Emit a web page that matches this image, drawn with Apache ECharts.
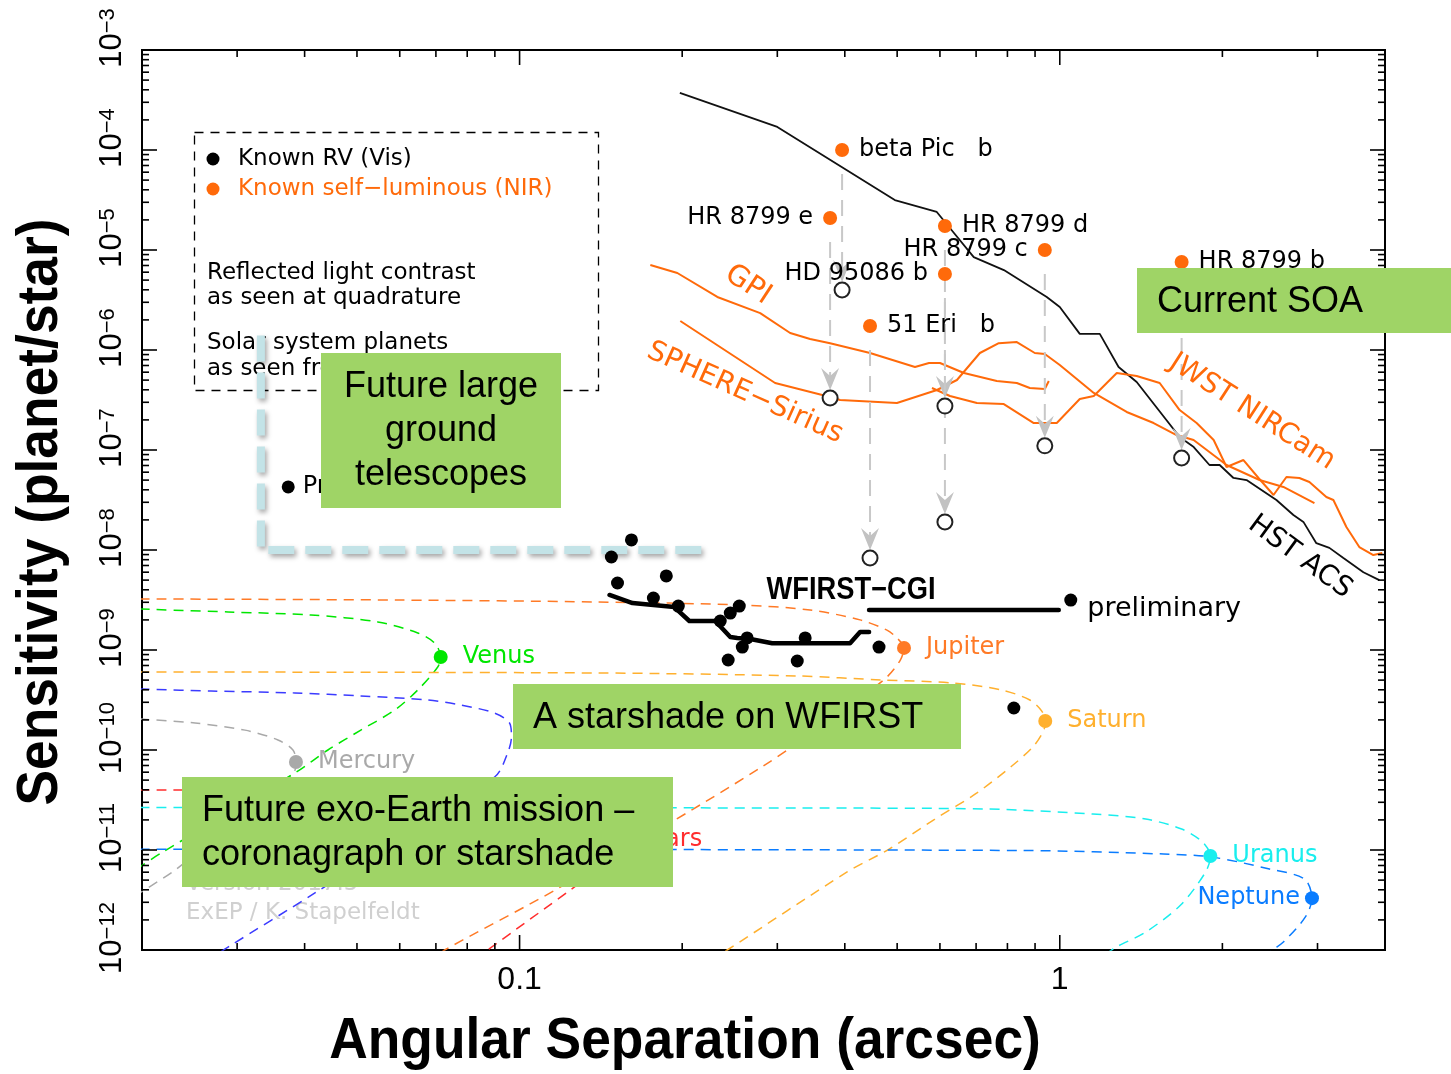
<!DOCTYPE html>
<html>
<head>
<meta charset="utf-8">
<script src="https://cdn.jsdelivr.net/npm/echarts@6/dist/echarts.min.js"></script>
<style>
  html, body { margin: 0; padding: 0; background: #fff; }
  #chart { width: 1451px; height: 1074px; }
</style>
</head>
<body>
<div id="chart"></div>
<script>
// ---------- data (angular separation in arcsec, contrast planet/star) ----------
const hstAcs = [[0.198,3.72e-4],[0.300,1.70e-4],[0.495,3.16e-5],[0.592,2.40e-5],[0.637,1.48e-5],[0.693,8.5e-6],[0.788,6.3e-6],[0.946,3.39e-6],[1.0,2.69e-6],[1.089,1.45e-6],[1.186,1.45e-6],[1.285,6.76e-7],[1.388,4.79e-7],[1.667,1.35e-7],[1.770,1.07e-7],[1.893,7.08e-8],[1.977,7.08e-8],[2.097,5.25e-8],[2.217,5.01e-8],[2.518,3.16e-8],[2.707,2.24e-8],[2.825,1.91e-8],[2.985,1.17e-8],[3.156,1.05e-8],[3.350,8.3e-9],[3.648,6.0e-9],[3.904,5.0e-9]];
const gpi = [[0.1746,7.08e-6],[0.1959,5.89e-6],[0.2323,3.39e-6],[0.2789,2.34e-6],[0.3169,1.48e-6],[0.345,1.29e-6],[0.3757,1.17e-6],[0.4454,9.33e-7],[0.5395,6.76e-7],[0.5727,7.41e-7],[0.6002,7.41e-7],[0.6647,5.89e-7],[0.7646,4.90e-7],[0.8327,4.68e-7],[0.8801,4.17e-7],[0.9382,4.07e-7],[0.9543,4.90e-7]];
const sphereSirius = [[0.1984,1.95e-6],[0.2972,4.68e-7],[0.3757,3.39e-7],[0.392,3.16e-7],[0.4995,2.95e-7],[0.5925,3.98e-7],[0.6451,5.01e-7],[0.7114,9.33e-7],[0.7711,1.17e-6],[0.8327,1.20e-6],[0.899,9.33e-7],[0.9382,9.12e-7],[1.0,7.08e-7],[1.156,3.72e-7],[1.33,2.40e-7],[1.492,1.86e-7],[1.645,1.41e-7],[1.769,1.26e-7],[2.036,7.08e-8],[2.343,5.01e-8],[2.594,4.27e-8],[2.961,2.95e-8]];
const jwstNircam = [[0.58,4.17e-7],[0.6262,3.47e-7],[0.7025,2.95e-7],[0.7878,2.88e-7],[0.8951,1.86e-7],[0.9873,1.86e-7],[1.089,3.24e-7],[1.156,3.47e-7],[1.275,5.89e-7],[1.388,5.50e-7],[1.531,4.68e-7],[1.667,2.51e-7],[1.792,1.86e-7],[1.927,1.26e-7],[2.036,6.76e-8],[2.188,7.94e-8],[2.333,5.25e-8],[2.487,3.55e-8],[2.628,5.37e-8],[2.777,5.25e-8],[2.898,4.79e-8],[3.115,3.39e-8],[3.21,3.16e-8],[3.393,1.70e-8],[3.585,1.07e-8],[3.806,8.91e-9],[3.954,9.33e-9]];
const wfirstCgi = [[0.1467,3.55e-9],[0.1618,2.95e-9],[0.1934,2.69e-9],[0.2062,1.95e-9],[0.2303,1.95e-9],[0.2455,1.35e-9],[0.2529,1.32e-9],[0.2673,1.29e-9],[0.2935,1.17e-9],[0.4091,1.17e-9],[0.4269,1.51e-9],[0.4436,1.51e-9]];
const wfirstPrelim = [[0.4436,2.51e-9],[0.9958,2.51e-9]];
const futureGround = [[0.0332,1.4e-6],[0.0332,1e-8],[0.218,1e-8]];

// known RV planets: [separation, contrast, label]
const knownRV = [[0.0373,4.27e-8,'Proxima Cen b'],[0.1611,1.26e-8,''],[0.1479,8.51e-9,''],[0.1518,4.68e-9,''],[0.1869,5.50e-9,''],[0.1769,3.31e-9,''],[0.1967,2.75e-9,''],[0.2551,2.75e-9,''],[0.2455,2.34e-9,''],[0.2352,1.95e-9,''],[0.2638,1.32e-9,''],[0.2584,1.07e-9,''],[0.2433,7.94e-10,''],[0.3378,1.32e-9,''],[0.3266,7.76e-10,''],[0.4628,1.07e-9,''],[0.8222,2.63e-10,''],[1.048,3.16e-9,'preliminary']];

// self-luminous planets: [name, separation, NIR contrast, reflected-light contrast]
const selfLuminous = [
  ['beta Pic   b', 0.3954, 1e-4, 3.98e-6],
  ['HR 8799 e', 0.3757, 2.09e-5, 3.31e-7],
  ['HR 8799 d', 0.6129, 1.74e-5, 2.75e-7],
  ['HR 8799 c', 0.9382, 1e-5, 1.10e-7],
  ['HD 95086 b', 0.6129, 5.75e-6, 1.91e-8],
  ['51 Eri   b', 0.4454, 1.74e-6, 8.32e-9],
  ['HR 8799 b', 1.681, 7.59e-6, 8.32e-8]
];
const labelsOnLeft = ['HR 8799 e', 'HR 8799 c', 'HD 95086 b'];

// solar system planets seen from 10 pc, along the orbit
const mercuryPath = [[0.0198,2.04e-10],[0.02508,1.86e-10],[0.03102,1.58e-10],[0.0357,1.26e-10],[0.03806,1e-10],[0.03855,7.59e-11],[0.03822,6.03e-11],[0.03421,3.72e-11],[0.02765,1.41e-11],[0.02304,6.31e-12],[0.0198,3.72e-12]];
const venusPath = [[0.0198,2.57e-9],[0.02886,2.40e-9],[0.04109,2.24e-9],[0.05463,1.91e-9],[0.06479,1.48e-9],[0.06966,1.17e-9],[0.07145,8.51e-10],[0.07055,6.76e-10],[0.06479,3.98e-10],[0.05874,2.51e-10],[0.05083,1.58e-10],[0.04418,1e-10],[0.03838,5.89e-11],[0.0217,9.33e-12],[0.0198,6.76e-12]];
const earthPath = [[0.0198,4.07e-10],[0.02684,3.89e-10],[0.03838,3.72e-10],[0.05083,3.47e-10],[0.06761,3.16e-10],[0.0778,2.82e-10],[0.08991,2.34e-10],[0.09583,1.86e-10],[0.0966,1.35e-10],[0.09502,9.33e-11],[0.08991,5.37e-11],[0.0418,3.72e-12],[0.02886,1.07e-12],[0.0275,0.9e-12]];
const marsPath = [[0.0198,3.98e-11],[0.0595,3.8e-11],[0.1127,3.16e-11],[0.1394,2.24e-11],[0.1518,1.66e-11],[0.155,1.26e-11],[0.1531,9.55e-12],[0.1394,6.31e-12],[0.1264,4.27e-12],[0.0873,1e-12],[0.084,0.85e-12]];
const jupiterPath = [[0.0198,3.24e-9],[0.0595,3.16e-9],[0.1394,3.02e-9],[0.2551,2.82e-9],[0.345,2.51e-9],[0.4269,2.0e-9],[0.4787,1.58e-9],[0.4995,1.32e-9],[0.5148,1.05e-9],[0.5068,7.94e-10],[0.4787,5.37e-10],[0.4217,3.16e-10],[0.2789,6.61e-11],[0.1191,4.27e-12],[0.07268,1e-12],[0.07,0.85e-12]];
const saturnPath = [[0.0198,6.03e-10],[0.1394,5.89e-10],[0.3266,5.5e-10],[0.4688,5.01e-10],[0.6343,4.68e-10],[0.7812,3.98e-10],[0.8801,3.16e-10],[0.9262,2.45e-10],[0.94,1.95e-10],[0.9342,1.58e-10],[0.8951,1.10e-10],[0.8152,6.92e-11],[0.7025,3.72e-11],[0.5874,2.04e-11],[0.4831,1.02e-11],[0.404,6.03e-12],[0.2424,1e-12],[0.23,0.85e-12]];
const uranusPath = [[0.0198,2.66e-11],[0.3266,2.63e-11],[0.7358,2.57e-11],[1.151,2.29e-11],[1.442,2.04e-11],[1.681,1.62e-11],[1.838,1.2e-11],[1.9,8.7e-12],[1.862,6.03e-12],[1.674,2.82e-12],[1.442,1.51e-12],[1.264,1.05e-12],[1.2,0.85e-12]];
const neptunePath = [[0.0198,1.02e-11],[0.8543,9.89e-12],[1.557,9.12e-12],[1.91,8.51e-12],[2.444,6.46e-12],[2.837,5.13e-12],[2.93,3.3e-12],[2.849,2.14e-12],[2.594,1.2e-12],[2.476,1e-12],[2.4,0.85e-12]];

// planets at quadrature: [name, separation, contrast]
const planetDots = [['Mercury',0.03855,7.59e-11],['Venus',0.07145,8.51e-10],['Mars',0.155,1.26e-11],['Jupiter',0.5148,1.05e-9],['Saturn',0.94,1.95e-10],['Uranus',1.9,8.7e-12],['Neptune',2.93,3.3e-12]];

// axis tick labels
const xLabelValues = [0.1, 1];
const xLabelTexts = ['0.1', '1'];
const yDecades = [-12, -11, -10, -9, -8, -7, -6, -5, -4, -3];

// ---------- styling ----------
const NARROW = "'Liberation Sans', Arial, sans-serif";
const PLOT_FONT = "'DejaVu Sans', sans-serif";
const ORANGE = '#ff6a0a';
const GREEN_BOX = '#9fd466';
const planetColors = {
  Mercury: '#a9a9a9', Venus: '#00e600', Earth: '#3b3bff', Mars: '#ff2d2d',
  Jupiter: '#ff7a26', Saturn: '#ffb02e', Uranus: '#19eeee', Neptune: '#0a7cff'
};

// minor/major tick values (1..9 per decade)
const xTicks = [];
[0.01, 0.1, 1].forEach(d => { for (let m = 1; m <= 9; m++) { const v = +(m * d).toPrecision(3); if (v >= 0.02 && v <= 4.0001) xTicks.push(v); } });
const yTicks = [];
yDecades.forEach(e => { for (let m = 1; m <= 9; m++) { const v = m * Math.pow(10, e); if (e === -3 && m > 1) continue; yTicks.push(v); } });
const isDecade = v => Math.abs(Math.log10(v) - Math.round(Math.log10(v))) < 1e-6;

function tickLine(x1, y1, x2, y2) {
  return { type: 'line', shape: { x1, y1, x2, y2 }, style: { stroke: '#000', lineWidth: 1.6 } };
}
function renderTicks(params, api) {
  const cs = params.coordSys;
  const children = [];
  const bottom = cs.y + cs.height, right = cs.x + cs.width;
  xTicks.forEach(v => {
    const px = api.coord([v, 1e-8])[0];
    const len = isDecade(v) ? 15 : 7;
    children.push(tickLine(px, bottom, px, bottom - len));
    children.push(tickLine(px, cs.y, px, cs.y + len));
  });
  yTicks.forEach(v => {
    const py = api.coord([0.1, v])[1];
    const len = isDecade(v) ? 15 : 7;
    children.push(tickLine(cs.x, py, cs.x + len, py));
    children.push(tickLine(right, py, right - len, py));
  });
  return { type: 'group', children };
}

// dashed drop from the NIR contrast to the reflected-light contrast, with arrowhead
function renderDrop(params, api) {
  const top = api.coord([api.value(0), api.value(1)]);
  const end = api.coord([api.value(0), api.value(2)]);
  const x = end[0], tipY = end[1] - 8;
  return {
    type: 'group',
    children: [
      { type: 'line', shape: { x1: x, y1: top[1] + 24, x2: x, y2: tipY - 14 },
        style: { stroke: '#c8c8c8', lineWidth: 2, lineDash: [16, 10] } },
      { type: 'polygon', shape: { points: [[x, tipY], [x - 9, tipY - 22], [x, tipY - 14], [x + 9, tipY - 22]] },
        style: { fill: '#c2c2c2' } }
    ]
  };
}

function planetCurve(name, data) {
  return {
    type: 'line', name: name, data: data, showSymbol: false, smooth: 0.3, z: 2, silent: true,
    lineStyle: { color: planetColors[name], width: 1.5, type: [10, 7] }
  };
}
function contrastCurve(data, color, width) {
  return { type: 'line', data: data, showSymbol: false, z: 3, silent: true, lineStyle: { color: color, width: width } };
}

function greenBox(x, y, w, h, text, tx, ty, align) {
  return {
    type: 'group', z: 100,
    children: [
      { type: 'rect', z: 100, shape: { x: x, y: y, width: w, height: h }, style: { fill: GREEN_BOX } },
      { type: 'text', z: 101, x: tx, y: ty,
        style: { text: text, fill: '#000', font: "36px 'Liberation Sans', Arial, sans-serif",
                 align: align, verticalAlign: 'middle', lineHeight: 44 } }
    ]
  };
}
function plotText(text, x, y, color, size, rot, align, z) {
  return {
    type: 'text', z: z || 20, x: x, y: y, rotation: rot || 0,
    style: { text: text, fill: color, font: size + 'px ' + PLOT_FONT, align: align || 'center', verticalAlign: 'middle' }
  };
}

const chart = echarts.init(document.getElementById('chart'), null, { renderer: 'canvas' });

const option = {
  animation: false,
  backgroundColor: '#fff',
  grid: { left: 142, right: 66, top: 50, bottom: 124, show: true, borderColor: '#000', borderWidth: 2, backgroundColor: 'transparent' },
  xAxis: {
    type: 'log', logBase: 10, min: 0.02, max: 4, splitNumber: 2,
    axisLine: { lineStyle: { color: '#000', width: 2 } },
    axisTick: { show: false }, splitLine: { show: false },
    axisLabel: {
      margin: 14, color: '#000', fontFamily: NARROW, fontSize: 32, interval: 0,
      formatter: v => {
        const i = xLabelValues.findIndex(t => Math.abs(t - v) / t < 1e-6);
        return i >= 0 ? xLabelTexts[i] : '';
      }
    }
  },
  yAxis: {
    type: 'log', logBase: 10, min: 1e-12, max: 1e-3, splitNumber: 9,
    axisLine: { lineStyle: { color: '#000', width: 2 } },
    axisTick: { show: false }, splitLine: { show: false },
    axisLabel: {
      rotate: 90, margin: 14, interval: 0, padding: [0, 0, 0, 24],
      formatter: v => {
        const e = Math.round(Math.log10(v));
        return yDecades.indexOf(e) >= 0 ? '{b|10}{s|\u2212' + (-e) + '}' : '';
      },
      rich: {
        b: { fontFamily: NARROW, fontSize: 31, lineHeight: 31, color: '#000', verticalAlign: 'bottom' },
        s: { fontFamily: NARROW, fontSize: 22, lineHeight: 22, color: '#000', verticalAlign: 'top', padding: [0, 0, 18, 0] }
      }
    }
  },
  series: [
    { type: 'custom', renderItem: renderTicks, data: [[0.1, 1e-8]], z: 10, silent: true, clip: false },

    planetCurve('Mercury', mercuryPath),
    planetCurve('Venus', venusPath),
    planetCurve('Earth', earthPath),
    planetCurve('Mars', marsPath),
    planetCurve('Jupiter', jupiterPath),
    planetCurve('Saturn', saturnPath),
    planetCurve('Uranus', uranusPath),
    planetCurve('Neptune', neptunePath),

    contrastCurve(hstAcs, '#111', 1.8),
    contrastCurve(gpi, ORANGE, 2),
    contrastCurve(sphereSirius, ORANGE, 2),
    contrastCurve(jwstNircam, ORANGE, 2),

    { type: 'line', data: wfirstCgi, showSymbol: false, z: 4, silent: true,
      lineStyle: { color: '#000', width: 4.5, cap: 'round', join: 'round' } },
    { type: 'line', data: wfirstPrelim, showSymbol: false, z: 4, silent: true,
      lineStyle: { color: '#000', width: 4.5, cap: 'round' } },

    { type: 'line', data: futureGround, showSymbol: false, z: 6, silent: true,
      lineStyle: { color: '#c3e3e7', width: 8, type: [26, 11], shadowColor: 'rgba(0,0,0,0.35)', shadowBlur: 5, shadowOffsetX: 2, shadowOffsetY: 3 } },

    { type: 'custom', renderItem: renderDrop, z: 4, silent: true,
      data: selfLuminous.map(d => [d[1], d[2], d[3]]) },
    { type: 'scatter', symbol: 'emptyCircle', symbolSize: 15, z: 5, silent: true,
      itemStyle: { color: '#222', borderColor: '#222', borderWidth: 1.3, opacity: 1 },
      data: selfLuminous.map(d => [d[1], d[3]]) },

    { type: 'scatter', symbolSize: 14, z: 7, silent: true,
      itemStyle: { color: ORANGE, opacity: 1 },
      data: selfLuminous.map(d => ({
        value: [d[1], d[2]],
        label: { show: true, formatter: d[0], position: labelsOnLeft.indexOf(d[0]) >= 0 ? 'left' : 'right',
                 distance: 10, color: '#000', fontFamily: PLOT_FONT, fontSize: 24 }
      })) },

    { type: 'scatter', symbolSize: 13, z: 7, silent: true,
      itemStyle: { color: '#000', opacity: 1 },
      data: knownRV.map(d => ({
        value: [d[0], d[1]],
        label: { show: d[2] !== '', formatter: d[2], position: 'right', distance: 8, color: '#000',
                 fontFamily: PLOT_FONT, fontSize: d[2] === 'preliminary' ? 27 : 24,
                 offset: d[2] === 'preliminary' ? [2, 9] : [0, 0] }
      })) },

    { type: 'scatter', symbolSize: 14, z: 7, silent: true,
      data: planetDots.map(d => ({
        value: [d[1], d[2]],
        itemStyle: { color: planetColors[d[0]], opacity: 1 },
        label: { show: true, formatter: d[0], position: d[0] === 'Neptune' ? 'left' : 'right',
                 distance: d[0] === 'Neptune' ? 5 : 15, color: planetColors[d[0]], fontFamily: PLOT_FONT, fontSize: 24 }
      })) }
  ],
  graphic: [
    // legend panel
    { type: 'rect', z: 1, shape: { x: 194.5, y: 132.5, width: 404, height: 258 },
      style: { fill: 'transparent', stroke: '#000', lineWidth: 1.3, lineDash: [9, 7] } },
    { type: 'circle', z: 1, shape: { cx: 213, cy: 159, r: 6.5 }, style: { fill: '#000' } },
    { type: 'circle', z: 1, shape: { cx: 213, cy: 189, r: 6.5 }, style: { fill: ORANGE } },
    plotText('Known RV (Vis)', 238, 159, '#000', 23, 0, 'left', 1),
    plotText('Known self\u2212luminous (NIR)', 238, 189, ORANGE, 23, 0, 'left', 1),
    plotText('Reflected light contrast', 207, 273, '#000', 23, 0, 'left', 1),
    plotText('as seen at quadrature', 207, 298, '#000', 23, 0, 'left', 1),
    plotText('Solar system planets', 207, 343, '#000', 23, 0, 'left', 1),
    plotText('as seen from 10 pc', 207, 369, '#000', 23, 0, 'left', 1),

    // credits
    plotText('Version 2017.5', 186, 884, '#d0d0d0', 23, 0, 'left', 1),
    plotText('ExEP / K. Stapelfeldt', 186, 913, '#d0d0d0', 23, 0, 'left', 1),

    // curve names
    plotText('GPI', 748, 285, ORANGE, 29, -0.58),
    plotText('SPHERE\u2212Sirius', 745, 393, ORANGE, 28, -0.42),
    plotText('JWST NIRCam', 1252, 412, ORANGE, 28, -0.57),
    plotText('HST ACS', 1300, 557, '#000', 28, -0.63),
    { type: 'text', z: 20, x: 851, y: 590, scaleX: 0.88,
      style: { text: 'WFIRST\u2212CGI', fill: '#000', font: "bold 31px " + NARROW, align: 'center', verticalAlign: 'middle' } },

    // axis titles
    { type: 'text', z: 20, x: 685, y: 1042, scaleX: 0.92,
      style: { text: 'Angular Separation (arcsec)', fill: '#000', font: "bold 58px " + NARROW, align: 'center', verticalAlign: 'middle' } },
    { type: 'text', z: 20, x: 41, y: 512, rotation: Math.PI / 2, scaleX: 0.92,
      style: { text: 'Sensitivity (planet/star)', fill: '#000', font: "bold 58px " + NARROW, align: 'center', verticalAlign: 'middle' } },

    // mission call-outs
    greenBox(1137, 268, 314, 65, 'Current SOA', 1157, 302, 'left'),
    greenBox(321, 353, 240, 155, 'Future large\nground\ntelescopes', 441, 431, 'center'),
    greenBox(513, 684, 448, 65, 'A starshade on WFIRST', 533, 718, 'left'),
    greenBox(182, 777, 491, 110, 'Future exo-Earth mission \u2013\ncoronagraph or starshade', 202, 833, 'left')
  ]
};
chart.setOption(option);
</script>
</body>
</html>
